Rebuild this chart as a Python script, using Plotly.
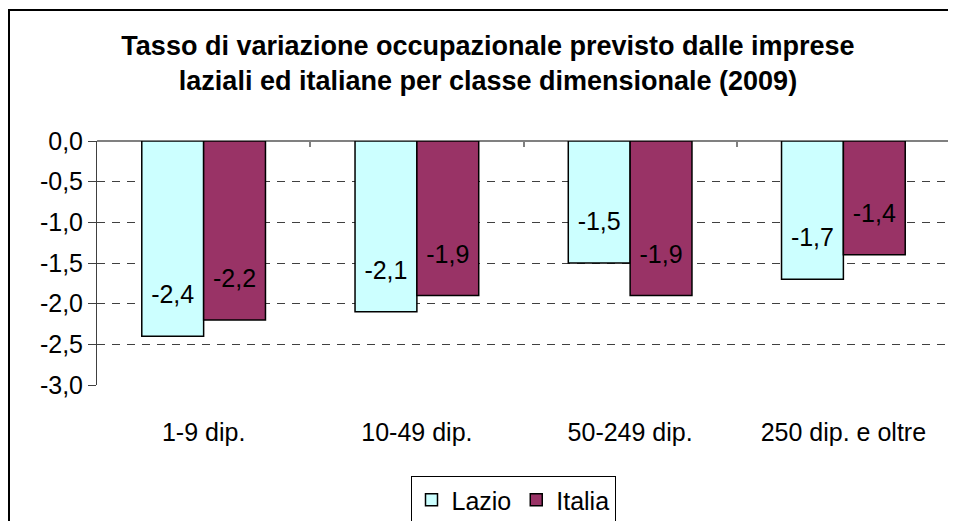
import plotly.graph_objects as go

categories = ["1-9 dip.", "10-49 dip.", "50-249 dip.", "250 dip. e oltre"]
lazio = [-2.4, -2.1, -1.5, -1.7]
italia = [-2.2, -1.9, -1.9, -1.4]
y_ticks = [0.0, -0.5, -1.0, -1.5, -2.0, -2.5, -3.0]
y_ticklabels = ["0,0", "-0,5", "-1,0", "-1,5", "-2,0", "-2,5", "-3,0"]

FONT = "Arial, Liberation Sans, sans-serif"
BAR_W = 0.29
LABEL_SHIFT = 0.48
# the page body keeps an 8px margin, so the figure is 8px smaller than the window
W, H = 948, 513

pos = list(range(len(categories)))

fig = go.Figure()

fig.add_trace(go.Bar(
    x=pos, y=lazio, name="Lazio", width=BAR_W, offset=-BAR_W,
    marker=dict(color="#CCFFFF", line=dict(color="black", width=1.5)),
))
fig.add_trace(go.Bar(
    x=pos, y=italia, name="Italia", width=BAR_W, offset=0,
    marker=dict(color="#993366", line=dict(color="black", width=1.5)),
))

# data labels, Excel style (a bit above the bar end)
for vals, shift in ((lazio, -BAR_W / 2), (italia, BAR_W / 2)):
    fig.add_trace(go.Scatter(
        x=[p + shift for p in pos], y=[v + LABEL_SHIFT for v in vals],
        mode="text", text=[f"{v:.1f}".replace(".", ",") for v in vals],
        textfont=dict(family=FONT, size=25, color="black"),
        showlegend=False, hoverinfo="skip",
    ))

# top axis only for the category separator ticks on the zero line
fig.add_trace(go.Scatter(x=[None], y=[None], xaxis="x2", showlegend=False))

fig.update_layout(
    width=W, height=H,
    paper_bgcolor="white", plot_bgcolor="white",
    margin=dict(l=89, r=6, t=133, b=136, autoexpand=False),
    font=dict(family=FONT, size=25, color="black"),
    title=dict(
        text="<b>Tasso di variazione occupazionale previsto dalle imprese<br>"
             "laziali ed italiane per classe dimensionale (2009)</b>",
        x=480 / W, xanchor="center", xref="container",
        y=1 - 47 / H, yanchor="middle", yref="container",
        font=dict(family=FONT, size=27, color="black"),
        automargin=False,
    ),
    barmode="overlay",
    showlegend=True,
    legend=dict(
        orientation="h", xref="container", yref="container",
        x=505 / W, xanchor="center", y=1 - 468 / H, yanchor="top",
        bordercolor="black", borderwidth=1, bgcolor="white",
        font=dict(family=FONT, size=25), traceorder="normal",
    ),
    xaxis=dict(
        range=[-0.5, len(categories) - 0.5],
        tickvals=pos, ticktext=categories,
        showgrid=False, zeroline=False, showline=False, ticks="",
        ticklabelstandoff=30, automargin=False,
    ),
    xaxis2=dict(
        overlaying="x", side="top", anchor="y",
        range=[-0.5, len(categories) - 0.5],
        tickvals=[p + 0.5 for p in pos], showticklabels=False,
        ticks="inside", ticklen=6, tickcolor="#808080", tickwidth=2,
        showgrid=False, zeroline=False, showline=False, automargin=False,
    ),
    yaxis=dict(
        range=[-3, 0], tickvals=y_ticks, ticktext=y_ticklabels,
        showgrid=True, gridcolor="#404040", griddash="8px,7px", gridwidth=1,
        zeroline=True, zerolinecolor="#808080", zerolinewidth=2,
        showline=True, linecolor="#404040", linewidth=1,
        ticks="outside", ticklen=8, tickcolor="#404040",
        automargin=False,
    ),
    shapes=[dict(
        type="rect", xref="paper", yref="paper",
        x0=-88 / 853, x1=1.05, y0=-0.6, y1=1 + 131 / 244,
        line=dict(color="black", width=2), layer="below",
    )],
)

fig.write_html("out.html")
